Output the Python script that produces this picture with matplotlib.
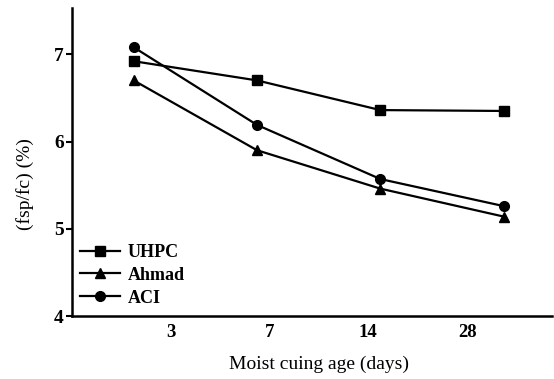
import matplotlib
matplotlib.use('Agg')
import matplotlib.pyplot as plt
import numpy as np

# valores
days = ['3', '7', '14', '28']
uhpc = [6.92, 6.70, 6.36, 6.35]
ahmad = [6.70, 5.90, 5.46, 5.14]
aci = [7.08, 6.19, 5.57, 5.26]

plt.rcParams['font.family'] = ['Liberation Serif', 'DejaVu Serif']

fig = plt.figure(figsize=(5.54, 3.79), dpi=100)
ax = fig.add_axes([0.130, 0.166, 0.866, 0.813])

x = np.arange(len(days))
ax.plot(x, uhpc, '-s', color='black', lw=1.6, ms=6.5, label='UHPC')
ax.plot(x, ahmad, '-^', color='black', lw=1.6, ms=7.5, label='Ahmad')
ax.plot(x, aci, '-o', color='black', lw=1.6, ms=7, label='ACI')

ax.set_xlim(-0.50, 3.39)
ax.set_ylim(4, 7.53)
ax.set_xticks([0.30, 1.10, 1.90, 2.71])
ax.set_xticklabels(days, fontweight='bold', fontsize=13.5)
ax.set_yticks([4, 5, 6, 7])
ax.set_yticklabels(['4', '5', '6', '7'], fontweight='bold', fontsize=14)
ax.tick_params(axis='x', length=0, pad=6)
ax.tick_params(axis='y', length=4, width=1.5, pad=2)

for s in ['top', 'right']:
    ax.spines[s].set_visible(False)
for s in ['left', 'bottom']:
    ax.spines[s].set_linewidth(1.8)

ax.set_xlabel('Moist cuing age (days)', fontsize=14)
ax.set_ylabel('(fsp/fc) (%)', fontsize=14)
ax.xaxis.set_label_coords(0.515, -0.13)
ax.yaxis.set_label_coords(-0.08, 0.43)

ax.legend(loc='lower left', bbox_to_anchor=(-0.01, -0.01), frameon=False,
          prop={'weight': 'bold', 'size': 13}, handlelength=2.2,
          handletextpad=0.45, labelspacing=0.32, borderaxespad=0.3)

fig.savefig('out.png', dpi=100)
